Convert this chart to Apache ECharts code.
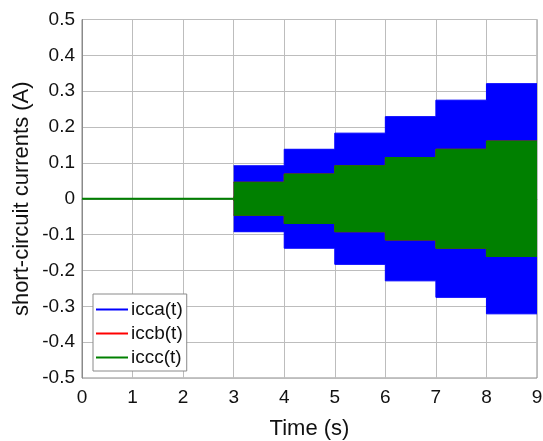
<!DOCTYPE html>
<html>
<head>
<meta charset="utf-8">
<script src="https://cdn.jsdelivr.net/npm/echarts@6/dist/echarts.min.js"></script>
<style>html,body{margin:0;padding:0;background:#fff;}#c{width:543px;height:441px;}</style>
</head>
<body>
<div id="c"></div>
<script>
// ---- data ----
const preFaultTimes = [0, 3];
const preFaultValues = [0, 0];
const stepTimes = [3, 4, 5, 6, 7, 8, 9];
const iccaAmp = [0.092, 0.138, 0.183, 0.229, 0.275, 0.321];
const iccbAmp = [0.046, 0.069, 0.092, 0.115, 0.138, 0.161];
const icccAmp = [0.046, 0.069, 0.092, 0.115, 0.138, 0.161];
const seriesNames = ['icca(t)', 'iccb(t)', 'iccc(t)'];
const seriesColors = ['#0000ff', '#ff0000', '#008000'];
const xTicks = [0, 1, 2, 3, 4, 5, 6, 7, 8, 9];
const yTicks = [-0.5, -0.4, -0.3, -0.2, -0.1, 0, 0.1, 0.2, 0.3, 0.4, 0.5];

function envelope(amp, sign) {
  const pts = [];
  for (let i = 0; i < amp.length; i++) pts.push([stepTimes[i], sign * amp[i]]);
  pts.push([stepTimes[stepTimes.length - 1], sign * amp[amp.length - 1]]);
  return pts;
}

const amps = [iccaAmp, iccbAmp, icccAmp];
const series = [];
amps.forEach((amp, k) => {
  const topMost = k === amps.length - 1;
  series.push({
    name: seriesNames[k], type: 'line',
    data: preFaultTimes.map((t, i) => [t, preFaultValues[i]]),
    showSymbol: false, symbol: 'none', color: seriesColors[k],
    lineStyle: { color: seriesColors[k], width: 2, opacity: topMost ? 1 : 0 },
    z: 2 + k, animation: false, silent: true
  });
  [1, -1].forEach(sign => {
    series.push({
      name: seriesNames[k],
      type: 'line',
      step: 'end',
      data: envelope(amp, sign),
      showSymbol: false,
      symbol: 'none',
      color: seriesColors[k],
      lineStyle: { color: seriesColors[k], width: 1 },
      areaStyle: { color: seriesColors[k], opacity: 1, origin: -sign * 0.006 },
      z: 2 + k,
      animation: false,
      silent: true
    });
  });
});

const font = 'Arial, "Liberation Sans", Helvetica, sans-serif';
const chart = echarts.init(document.getElementById('c'), null, { renderer: 'canvas' });
chart.setOption({
  animation: false,
  backgroundColor: '#ffffff',
  grid: { left: 82, right: 6, top: 19.5, bottom: 63, show: true, borderColor: '#8a8a8a', borderWidth: 1,
    backgroundColor: 'transparent', outerBoundsMode: 'none', containLabel: false },
  xAxis: {
    type: 'value', min: xTicks[0], max: xTicks[xTicks.length - 1], interval: 1,
    name: 'Time (s)', nameLocation: 'middle', nameGap: 40,
    nameTextStyle: { fontFamily: font, fontSize: 22, color: '#111' },
    axisLine: { show: true, lineStyle: { color: '#8a8a8a' } },
    axisTick: { show: false },
    axisLabel: { fontFamily: font, fontSize: 19, color: '#111', margin: 10 },
    splitLine: { show: true, lineStyle: { color: '#bdbdbd', width: 1 } }
  },
  yAxis: {
    type: 'value', min: yTicks[0], max: yTicks[yTicks.length - 1], interval: 0.1,
    name: 'short-circuit currents (A)', nameLocation: 'middle', nameGap: 49, nameMoveOverlap: false,
    nameTextStyle: { fontFamily: font, fontSize: 22, color: '#111' },
    axisLine: { show: true, lineStyle: { color: '#8a8a8a' } },
    axisTick: { show: false },
    axisLabel: { fontFamily: font, fontSize: 19, color: '#111', margin: 7,
      formatter: v => { const r = Math.round(v * 10) / 10; return r === 0 ? '0' : String(r); } },
    splitLine: { show: true, lineStyle: { color: '#bdbdbd', width: 1 } }
  },
  legend: {
    data: seriesNames.map((n, i) => ({ name: n, icon: 'rect', itemStyle: { color: seriesColors[i] } })),
    orient: 'vertical', left: 93, top: 294,
    itemWidth: 32, itemHeight: 2, itemGap: 3,
    padding: [5, 4, 3, 3],
    backgroundColor: '#ffffff', borderColor: '#8a8a8a', borderWidth: 1, borderRadius: 0,
    textStyle: { fontFamily: font, fontSize: 19, color: '#111', lineHeight: 21, padding: [0, 0, 0, -2] },
    selectedMode: false
  },
  series: series
});
</script>
</body>
</html>
